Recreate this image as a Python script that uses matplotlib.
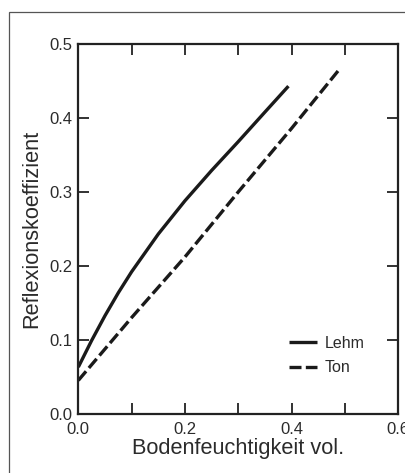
import matplotlib
matplotlib.use("Agg")
import matplotlib.pyplot as plt
from matplotlib.patches import Rectangle

plt.rcParams['font.family'] = ['Liberation Sans', 'DejaVu Sans']

lehm_x = [0.0, 0.025, 0.05, 0.075, 0.1, 0.15, 0.2, 0.25, 0.3, 0.35, 0.394]
lehm_y = [0.063, 0.099, 0.1325, 0.1635, 0.192, 0.243, 0.288, 0.329, 0.368, 0.408, 0.443]
ton_x = [0.0, 0.1, 0.2, 0.3, 0.4, 0.4875]
ton_y = [0.045, 0.130, 0.212, 0.300, 0.386, 0.464]

xticks = [0.0, 0.2, 0.4, 0.6]
xminor = [0.1, 0.3, 0.5]
yticks = [0.0, 0.1, 0.2, 0.3, 0.4, 0.5]

W, H = 405, 473
fig = plt.figure(figsize=(W / 100, H / 100), dpi=100)
fig.patches.append(Rectangle((9 / W, -0.1), 1.2, (H - 12) / H + 0.1,
                             transform=fig.transFigure, fill=False,
                             edgecolor='#555555', linewidth=0.9))
ax = fig.add_axes([78.3 / W, 59.3 / H, 320 / W, 369.7 / H])

tc = '#2b2b2b'
ax.plot(lehm_x, lehm_y, color='#1a1a1a', lw=2.4, solid_capstyle='butt', label='Lehm')
ax.plot(ton_x, ton_y, color='#1a1a1a', lw=2.4, dashes=(3.6, 1.3), label='Ton')

ax.set_xlim(0, 0.6)
ax.set_ylim(0, 0.5)
ax.set_xticks(xticks)
ax.set_xticks(xminor, minor=True)
ax.set_yticks(yticks)
ax.set_xticklabels([f"{v:.1f}" for v in xticks])
ax.set_yticklabels([f"{v:.1f}" for v in yticks])
ax.tick_params(which='both', direction='in', top=True, right=True, length=8,
               width=1.3, color='#222222', labelsize=12, labelcolor=tc)
ax.tick_params(axis='x', pad=6)
ax.tick_params(axis='y', pad=4)
for s in ax.spines.values():
    s.set_linewidth(1.6)
    s.set_color('#222222')

ax.set_xlabel('Bodenfeuchtigkeit vol.', fontsize=15.7, color=tc, labelpad=1)
ax.set_ylabel('Reflexionskoeffizient', fontsize=15.7, color=tc, labelpad=5)

leg = ax.legend(loc='lower right', bbox_to_anchor=(0.94, 0.065), frameon=False,
                fontsize=11.5, handlelength=1.75, handletextpad=0.5,
                labelspacing=0.6, labelcolor=tc)

fig.savefig('out.png', dpi=100)
